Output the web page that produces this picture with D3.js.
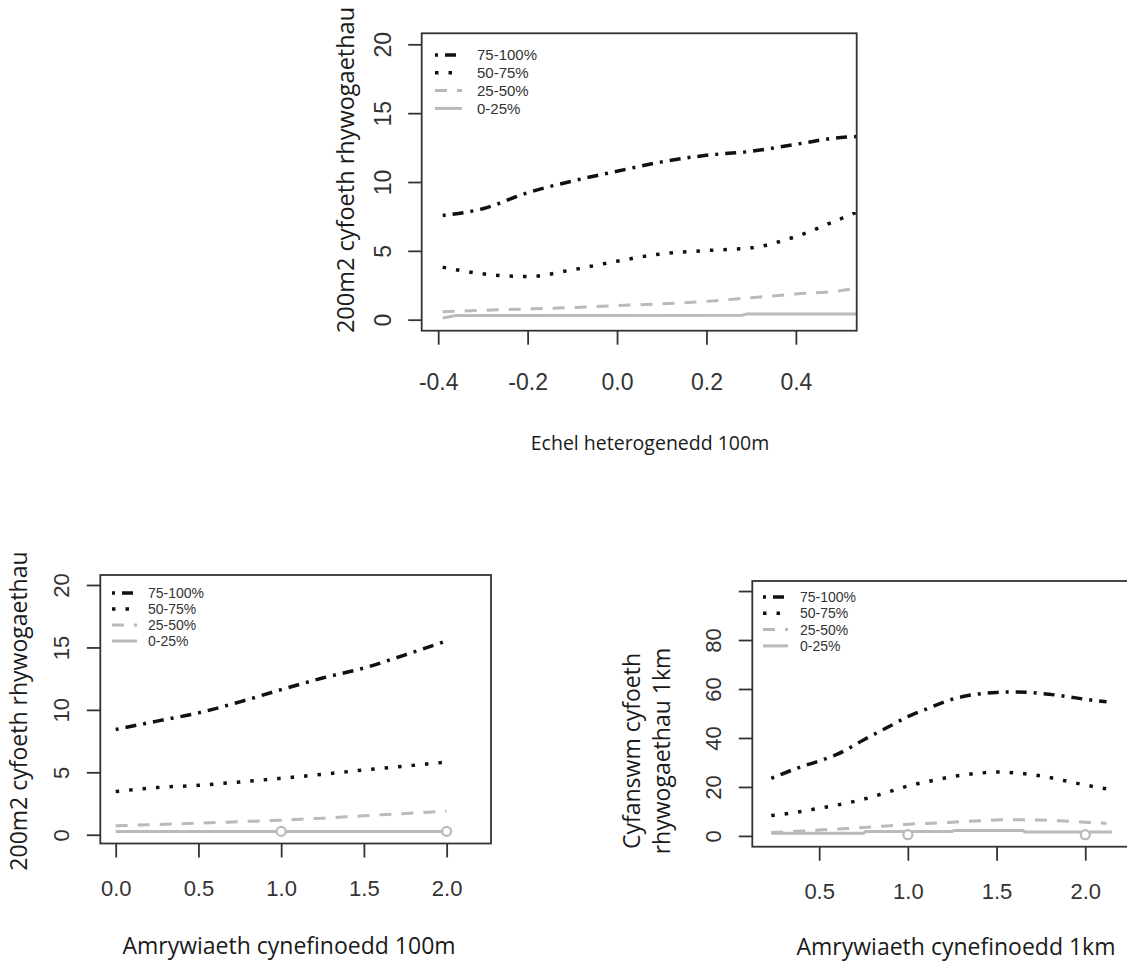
<!DOCTYPE html>
<html>
<head>
<meta charset="utf-8">
<script src="https://cdn.jsdelivr.net/npm/d3@7"></script>
<style>
  body { margin: 0; background: #fff; }
  svg { display: block; }
</style>
</head>
<body>
<svg id="chart" width="1127" height="961"></svg>
<script>
'use strict';

// legend / series labels
var seriesNames = ['75-100%', '50-75%', '25-50%', '0-25%'];

// top panel: Echel heterogenedd 100m
var hetX = [-0.39, -0.3, -0.2, -0.1, 0.0, 0.1, 0.2, 0.3, 0.4, 0.5, 0.536];
var hetQ4 = [7.57, 8.06, 9.22, 10.07, 10.78, 11.46, 11.94, 12.23, 12.74, 13.23, 13.3];
var hetQ3 = [3.81, 3.33, 3.13, 3.62, 4.25, 4.78, 5.02, 5.22, 6.04, 7.33, 7.8];
var hetQ2 = [0.58, 0.68, 0.78, 0.88, 1.02, 1.15, 1.33, 1.6, 1.87, 2.11, 2.3];
var hetQ1x = [-0.39, -0.36, 0.28, 0.29, 0.536];
var hetQ1 = [0.12, 0.3, 0.32, 0.42, 0.42];
var hetXTicks = [-0.4, -0.2, 0.0, 0.2, 0.4];

// bottom left: Amrywiaeth cynefinoedd 100m
var hab100X = [0, 0.25, 0.5, 0.75, 1.0, 1.25, 1.5, 1.75, 2.0];
var hab100Q4 = [8.43, 9.1, 9.76, 10.64, 11.62, 12.55, 13.35, 14.41, 15.53];
var hab100Q3 = [3.46, 3.78, 3.96, 4.23, 4.52, 4.84, 5.19, 5.5, 5.82];
var hab100Q2 = [0.72, 0.82, 0.93, 1.05, 1.17, 1.33, 1.52, 1.7, 1.91];
var hab100Q1x = [0, 2.0];
var hab100Q1 = [0.27, 0.27];
var hab100PtsX = [1.0, 2.0];
var hab100PtsY = [0.27, 0.27];
var hab100XTicks = [0.0, 0.5, 1.0, 1.5, 2.0];

// bottom right: Amrywiaeth cynefinoedd 1km
var hab1kX = [0.23, 0.4, 0.5, 0.6, 0.75, 0.9, 1.0, 1.1, 1.25, 1.4, 1.5, 1.6, 1.75, 1.9, 2.0, 2.12];
var hab1kQ4 = [23.5, 28.3, 30.6, 33.3, 39.2, 44.9, 48.7, 51.7, 55.8, 58.0, 58.6, 58.8, 58.2, 56.9, 55.8, 54.8];
var hab1kQ3 = [8.3, 10.0, 11.3, 12.6, 15.0, 18.2, 20.4, 22.0, 24.2, 25.6, 26.1, 25.8, 24.5, 22.3, 20.8, 19.2];
var hab1kQ2 = [1.4, 2.0, 2.4, 2.8, 3.4, 4.2, 4.8, 5.1, 5.6, 6.2, 6.5, 6.6, 6.5, 6.0, 5.6, 5.2];
var hab1kQ1x = [0.23, 0.75, 0.76, 1.25, 1.26, 1.65, 1.66, 2.15];
var hab1kQ1 = [1.1, 1.1, 1.8, 1.8, 2.2, 2.2, 1.6, 1.6];
var hab1kPtsX = [1.0, 2.0];
var hab1kPtsY = [0.5, 0.5];
var hab1kXTicks = [0.5, 1.0, 1.5, 2.0];

var svg = d3.select('#chart');
var tickFont = '"Liberation Sans", Arial, sans-serif';
var titleFont = '"Open Sans", sans-serif';
var black = '#111';
var grey = '#bababa';

// line styles per series, same order as seriesNames
var styles = [
  { color: black, dash: '3,7,11,7', width: 3.5 },
  { color: black, dash: '3.5,10', width: 3.5 },
  { color: grey, dash: '12,10', width: 3 },
  { color: grey, dash: null, width: 3 }
];

function zip (xs, ys) {
  return xs.map(function (x, i) { return [x, ys[i]]; });
}

function drawPanel (cfg, idx) {
  var g = svg.append('g');
  var x = d3.scaleLinear().domain(cfg.xUsr).range([cfg.left, cfg.right]);
  var y = d3.scaleLinear().domain(cfg.yUsr).range([cfg.bottom, cfg.top]);

  var clipId = 'clip' + idx;
  svg.append('clipPath').attr('id', clipId)
    .append('rect')
      .attr('x', cfg.left).attr('y', cfg.top)
      .attr('width', cfg.right - cfg.left).attr('height', cfg.bottom - cfg.top);

  // x axis
  var xa = g.append('g')
    .attr('transform', 'translate(0,' + cfg.bottom + ')')
    .call(d3.axisBottom(x).tickValues(cfg.xTicks).tickSize(14).tickPadding(cfg.xPad)
      .tickFormat(d3.format('.1f')));
  xa.select('.domain').remove();
  xa.selectAll('line').attr('stroke', '#333').attr('stroke-width', 1.8);
  xa.selectAll('text')
    .attr('font-family', tickFont).attr('font-size', cfg.tickSize).attr('fill', '#333')
    .text(function (d) { return d3.format('.1f')(d).replace('−', '-'); });

  // y axis, labels rotated like R's default
  var ya = g.append('g')
    .attr('transform', 'translate(' + cfg.left + ',0)')
    .call(d3.axisLeft(y).tickValues(cfg.yTicks).tickSize(13.5));
  ya.select('.domain').remove();
  ya.selectAll('line').attr('stroke', '#333').attr('stroke-width', 1.8);
  ya.selectAll('text')
    .attr('x', null).attr('dy', '0.36em')
    .attr('transform', 'translate(-39,0) rotate(-90)')
    .attr('text-anchor', 'middle')
    .attr('font-family', tickFont).attr('font-size', cfg.tickSize).attr('fill', '#333')
    .text(function (d) { return cfg.yLabels.indexOf(d) >= 0 ? d : ''; });

  // series lines
  var line = d3.line().x(function (d) { return x(d[0]); }).y(function (d) { return y(d[1]); });
  var lines = g.append('g').attr('clip-path', 'url(#' + clipId + ')');
  cfg.series.forEach(function (s, i) {
    var st = styles[i];
    lines.append('path')
      .datum(zip(s.x, s.y))
      .attr('fill', 'none')
      .attr('stroke', st.color)
      .attr('stroke-width', st.width)
      .attr('stroke-dasharray', st.dash)
      .attr('d', line.curve(i === 3 ? d3.curveLinear : d3.curveMonotoneX));
  });

  if (cfg.points) {
    lines.selectAll('circle')
      .data(zip(cfg.points.x, cfg.points.y))
      .enter().append('circle')
        .attr('cx', function (d) { return x(d[0]); })
        .attr('cy', function (d) { return y(d[1]); })
        .attr('r', 4.5)
        .attr('fill', '#fff')
        .attr('stroke', grey)
        .attr('stroke-width', 2.2);
  }

  // box
  g.append('rect')
    .attr('x', cfg.left).attr('y', cfg.top)
    .attr('width', cfg.right - cfg.left).attr('height', cfg.bottom - cfg.top)
    .attr('fill', 'none').attr('stroke', '#333').attr('stroke-width', 1.8);

  // legend
  var lg = cfg.legend;
  seriesNames.forEach(function (name, i) {
    var st = styles[i];
    var ly = lg.y + i * lg.rowH;
    g.append('line')
      .attr('x1', lg.x).attr('x2', lg.x + lg.len)
      .attr('y1', ly).attr('y2', ly)
      .attr('stroke', st.color).attr('stroke-width', st.width)
      .attr('stroke-dasharray', st.dash);
    g.append('text')
      .attr('x', lg.x + lg.len + lg.gap).attr('y', ly).attr('dy', '0.36em')
      .attr('font-family', tickFont).attr('font-size', lg.fontSize).attr('fill', '#333')
      .text(name);
  });

  // axis titles
  g.append('text')
    .attr('x', cfg.xTitle.x).attr('y', cfg.xTitle.y).attr('dy', '0.35em')
    .attr('text-anchor', 'middle')
    .attr('font-family', titleFont).attr('font-size', cfg.xTitle.size).attr('fill', '#1a1a1a')
    .text(cfg.xTitle.text);

  cfg.yTitle.lines.forEach(function (t, i) {
    var tx = cfg.yTitle.x + i * cfg.yTitle.lineGap;
    g.append('text')
      .attr('transform', 'translate(' + tx + ',' + cfg.yTitle.y + ') rotate(-90)')
      .attr('dy', '0.35em')
      .attr('text-anchor', 'middle')
      .attr('font-family', titleFont).attr('font-size', cfg.yTitle.size).attr('fill', '#1a1a1a')
      .text(t);
  });
}

var panels = [
  {
    left: 421.7, right: 856.7, top: 33.3, bottom: 330.7,
    xUsr: [-0.4369, 0.536], yUsr: [-0.8, 20.8],
    xTicks: hetXTicks, yTicks: [0, 5, 10, 15, 20], yLabels: [0, 5, 10, 15, 20],
    tickSize: 23, xPad: 29,
    series: [
      { x: hetX, y: hetQ4 }, { x: hetX, y: hetQ3 }, { x: hetX, y: hetQ2 }, { x: hetQ1x, y: hetQ1 }
    ],
    legend: { x: 435, y: 55, rowH: 17.8, len: 27, gap: 15, fontSize: 15 },
    xTitle: { x: 650, y: 443, size: 19.5, text: 'Echel heterogenedd 100m' },
    yTitle: { x: 346, y: 170, size: 23.5, lineGap: 0, lines: ['200m2 cyfoeth rhywogaethau'] }
  },
  {
    left: 100.3, right: 491, top: 575, bottom: 843.5,
    xUsr: [-0.093, 2.268], yUsr: [-0.7, 20.8],
    xTicks: hab100XTicks, yTicks: [0, 5, 10, 15, 20], yLabels: [0, 5, 10, 15, 20],
    tickSize: 22, xPad: 23,
    series: [
      { x: hab100X, y: hab100Q4 }, { x: hab100X, y: hab100Q3 }, { x: hab100X, y: hab100Q2 }, { x: hab100Q1x, y: hab100Q1 }
    ],
    points: { x: hab100PtsX, y: hab100PtsY },
    legend: { x: 112, y: 593, rowH: 16, len: 25, gap: 11, fontSize: 14 },
    xTitle: { x: 289, y: 946, size: 23, text: 'Amrywiaeth cynefinoedd 100m' },
    yTitle: { x: 19, y: 711, size: 23, lineGap: 0, lines: ['200m2 cyfoeth rhywogaethau'] }
  },
  {
    left: 752.3, right: 1150, top: 581, bottom: 846.7,
    xUsr: [0.123, 2.365], yUsr: [-4.4, 104.1],
    xTicks: hab1kXTicks, yTicks: [0, 20, 40, 60, 80, 100], yLabels: [0, 20, 40, 60, 80],
    tickSize: 22, xPad: 23,
    series: [
      { x: hab1kX, y: hab1kQ4 }, { x: hab1kX, y: hab1kQ3 }, { x: hab1kX, y: hab1kQ2 }, { x: hab1kQ1x, y: hab1kQ1 }
    ],
    points: { x: hab1kPtsX, y: hab1kPtsY },
    legend: { x: 763, y: 597, rowH: 16.3, len: 25, gap: 12, fontSize: 14 },
    xTitle: { x: 956, y: 947, size: 23, text: 'Amrywiaeth cynefinoedd 1km' },
    yTitle: { x: 632, y: 751, size: 23, lineGap: 30, lines: ['Cyfanswm cyfoeth', 'rhywogaethau 1km'] }
  }
];

panels.forEach(drawPanel);
</script>
</body>
</html>
